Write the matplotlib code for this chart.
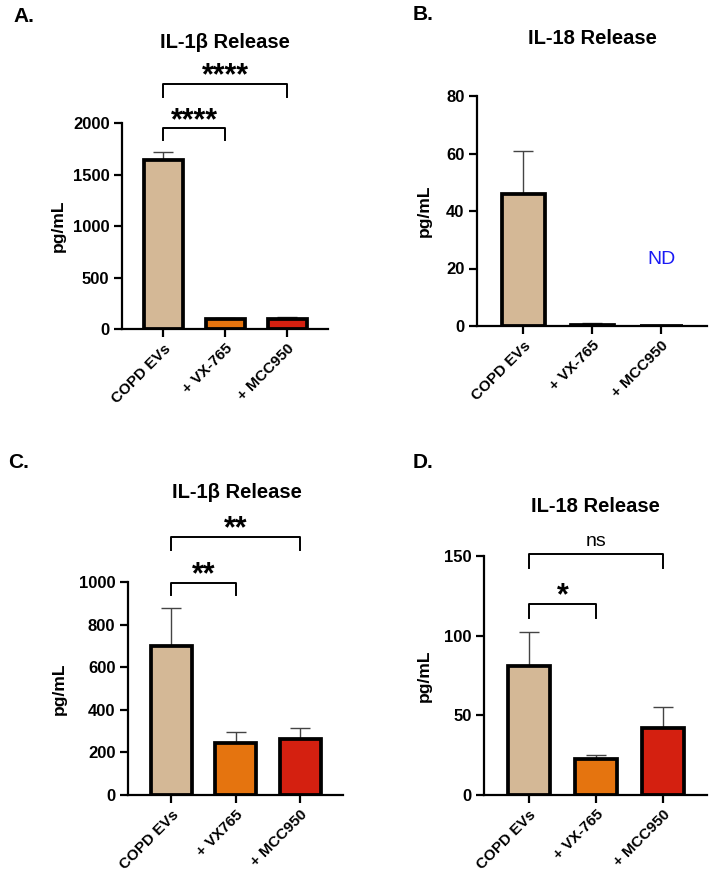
import matplotlib

matplotlib.use("Agg")
import matplotlib.pyplot as plt
from matplotlib.transforms import offset_copy

plt.rcParams["font.family"] = ["Liberation Sans", "DejaVu Sans"]
plt.rcParams["font.weight"] = "bold"

W, H = 715, 890
COLORS = ["#D4B896", "#E5740F", "#D42010"]

labels_a = ["COPD EVs", "+ VX-765", "+ MCC950"]
values_a = [1645, 100, 100]
errors_a = [75, 10, 15]

labels_b = ["COPD EVs", "+ VX-765", "+ MCC950"]
values_b = [46, 0.2, 0]
errors_b = [15, 0.8, 0]

labels_c = ["COPD EVs", "+ VX765", "+ MCC950"]
values_c = [700, 245, 263]
errors_c = [178, 50, 50]

labels_d = ["COPD EVs", "+ VX-765", "+ MCC950"]
values_d = [81, 22.5, 42]
errors_d = [21, 2.5, 13.5]

fig = plt.figure(figsize=(W / 100, H / 100), dpi=100)


def make_axes(left, right, top, bottom):
    # pixel box -> figure fraction
    return fig.add_axes([left / W, 1 - bottom / H, (right - left) / W, (bottom - top) / H])


def panel(ax, labels, values, errors, ymax, yticks, label_dx):
    x = range(len(labels))
    ax.bar(x, values, width=0.63, color=COLORS, edgecolor="black", linewidth=2.7, zorder=2)
    ax.errorbar(
        x, values, yerr=[[0] * len(errors), errors], fmt="none",
        ecolor="#444444", elinewidth=1.0, capsize=7, capthick=1.0, zorder=1,
    )
    ax.set_xlim(-0.67, 2.66)
    ax.set_ylim(0, ymax)
    ax.set_yticks(yticks)
    ax.set_xticks(list(x))
    ax.set_xticklabels(labels, rotation=45, ha="right", rotation_mode="anchor", fontsize=11)
    for label in ax.get_yticklabels():
        label.set_fontsize(12)
    ax.spines["top"].set_visible(False)
    ax.spines["right"].set_visible(False)
    ax.spines["left"].set_linewidth(1.6)
    ax.spines["bottom"].set_linewidth(1.6)
    ax.tick_params(width=1.6, length=6, pad=3)
    ax.set_ylabel("pg/mL", fontsize=12.5, fontweight="bold")
    width_px = ax.get_position().width * W
    ax.yaxis.set_label_coords(-label_dx / width_px, 0.5)


def bracket(ax, x0, x1, y, drop, text, text_y, size=22, weight="bold"):
    ax.plot([x0, x0, x1, x1], [y - drop, y, y, y - drop], color="black", lw=1.4, clip_on=False)
    # asterisks sit high in the text box, nudge them down a few pixels
    shifted = offset_copy(ax.transData, fig=fig, y=-5, units="dots")
    ax.text((x0 + x1) / 2, text_y, text, ha="center", va="center", fontsize=size,
            fontweight=weight, clip_on=False, transform=shifted)


def title(px, py, text):
    fig.text(px / W, 1 - py / H, text, fontsize=14.5, fontweight="bold", ha="center", va="center")


ax_a = make_axes(122, 328, 123, 329)
panel(ax_a, labels_a, values_a, errors_a, 2000, [0, 500, 1000, 1500, 2000], 56)
bracket(ax_a, 0, 1, 1950, 115, "****", 2070)
bracket(ax_a, 0, 2, 2380, 125, "****", 2500)
title(225, 43, "IL-1β Release")

ax_b = make_axes(477, 707, 96, 326)
panel(ax_b, labels_b, values_b, errors_b, 80, [0, 20, 40, 60, 80], 45)
ax_b.text(2, 23, "ND", color="#1A1AF5", ha="center", va="center", fontsize=14, fontweight="normal")
title(592, 39, "IL-18 Release")

ax_c = make_axes(128, 343, 582, 795)
panel(ax_c, labels_c, values_c, errors_c, 1000, [0, 200, 400, 600, 800, 1000], 61)
bracket(ax_c, 0, 1, 995, 55, "**", 1055)
bracket(ax_c, 0, 2, 1210, 58, "**", 1270)
title(237, 492, "IL-1β Release")

ax_d = make_axes(484, 707, 556, 795)
panel(ax_d, labels_d, values_d, errors_d, 150, [0, 50, 100, 150], 52)
bracket(ax_d, 0, 1, 120, 9, "*", 128)
bracket(ax_d, 0, 2, 151, 8.5, "ns", 162, size=14, weight="normal")
title(595, 507, "IL-18 Release")

for letter, px, py in [("A.", 13, 16), ("B.", 413, 15), ("C.", 8, 463), ("D.", 413, 463)]:
    fig.text(px / W, 1 - py / H, letter, fontsize=15, fontweight="bold", va="center", ha="left")

fig.savefig("out.png", dpi=100)
